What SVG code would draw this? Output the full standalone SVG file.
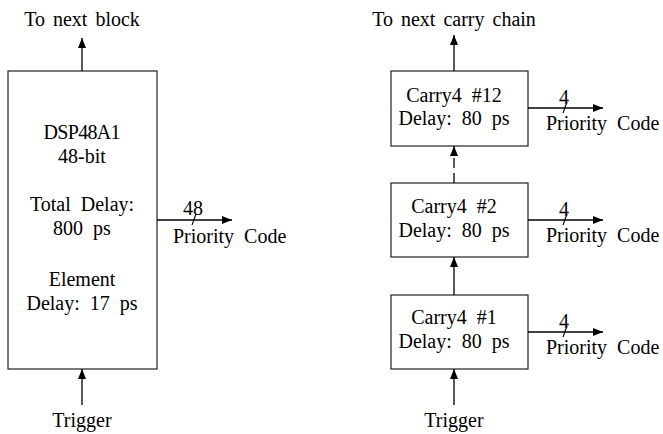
<svg xmlns="http://www.w3.org/2000/svg" width="663" height="434" viewBox="0 0 663 434">
<defs>
<marker id="ah" viewBox="0 0 10 8" refX="10" refY="4" markerWidth="10" markerHeight="8" markerUnits="userSpaceOnUse" orient="auto">
<path d="M0,0 L10,4 L0,8 Z" fill="#000"/>
</marker>
</defs>
<style>
.c{text-anchor:middle}
.box{fill:#fff;stroke:#333;stroke-width:1.3}
.ar{stroke:#000;stroke-width:1.3;fill:none;marker-end:url(#ah)}
.sl{stroke:#000;stroke-width:1.1}
.dash{stroke-dasharray:10 5}
</style>
<rect width="663" height="434" fill="#fff"/>
<g font-family="Liberation Serif, Times New Roman, serif" font-size="20" word-spacing="5" fill="#000">
<g id="dsp">
<rect class="box" x="8" y="71" width="149" height="298"/>
<text class="c" x="82" y="139" textLength="77">DSP48A1</text>
<text class="c" x="82" y="163">48-bit</text>
<text class="c" x="82" y="211">Total Delay:</text>
<text class="c" x="82" y="235">800 ps</text>
<text class="c" x="82" y="286">Element</text>
<text class="c" x="82" y="310">Delay: 17 ps</text>
</g>
<g id="carry12">
<rect class="box" x="391" y="71" width="137" height="75"/>
<text class="c" x="454" y="102">Carry4 #12</text>
<text class="c" x="454" y="125">Delay: 80 ps</text>
</g>
<g id="carry2">
<rect class="box" x="391" y="183" width="137" height="74"/>
<text class="c" x="454" y="213">Carry4 #2</text>
<text class="c" x="454" y="237">Delay: 80 ps</text>
</g>
<g id="carry1">
<rect class="box" x="391" y="295" width="137" height="74"/>
<text class="c" x="454" y="324">Carry4 #1</text>
<text class="c" x="454" y="348">Delay: 80 ps</text>
</g>
<g id="labels">
<text class="c" x="82" y="26" word-spacing="3">To next block</text>
<text class="c" x="82" y="427">Trigger</text>
<text class="c" x="454" y="26" word-spacing="3">To next carry chain</text>
<text class="c" x="454" y="427">Trigger</text>
<text x="173" y="243">Priority Code</text>
<text class="c" x="193" y="215">48</text>
<text x="546" y="130">Priority Code</text>
<text class="c" x="564" y="104">4</text>
<text x="546" y="242">Priority Code</text>
<text class="c" x="564" y="216">4</text>
<text x="546" y="354">Priority Code</text>
<text class="c" x="564" y="328">4</text>
</g>
</g>
<g id="connectors">
<line class="ar" x1="82" y1="71" x2="82" y2="38"/>
<line class="ar" x1="82" y1="405" x2="82" y2="369"/>
<line class="ar" x1="157" y1="220" x2="232" y2="220"/>
<line class="sl" x1="192" y1="225" x2="196" y2="214"/>
<line class="ar" x1="454" y1="71" x2="454" y2="35"/>
<line class="ar dash" x1="454" y1="183" x2="454" y2="146"/>
<line class="ar" x1="454" y1="295" x2="454" y2="257"/>
<line class="ar" x1="454" y1="405" x2="454" y2="369"/>
<line class="ar" x1="528" y1="108" x2="603" y2="108"/>
<line class="sl" x1="563" y1="113" x2="567" y2="102"/>
<line class="ar" x1="528" y1="220" x2="603" y2="220"/>
<line class="sl" x1="563" y1="225" x2="567" y2="214"/>
<line class="ar" x1="528" y1="332" x2="603" y2="332"/>
<line class="sl" x1="563" y1="337" x2="567" y2="326"/>
</g>
</svg>
